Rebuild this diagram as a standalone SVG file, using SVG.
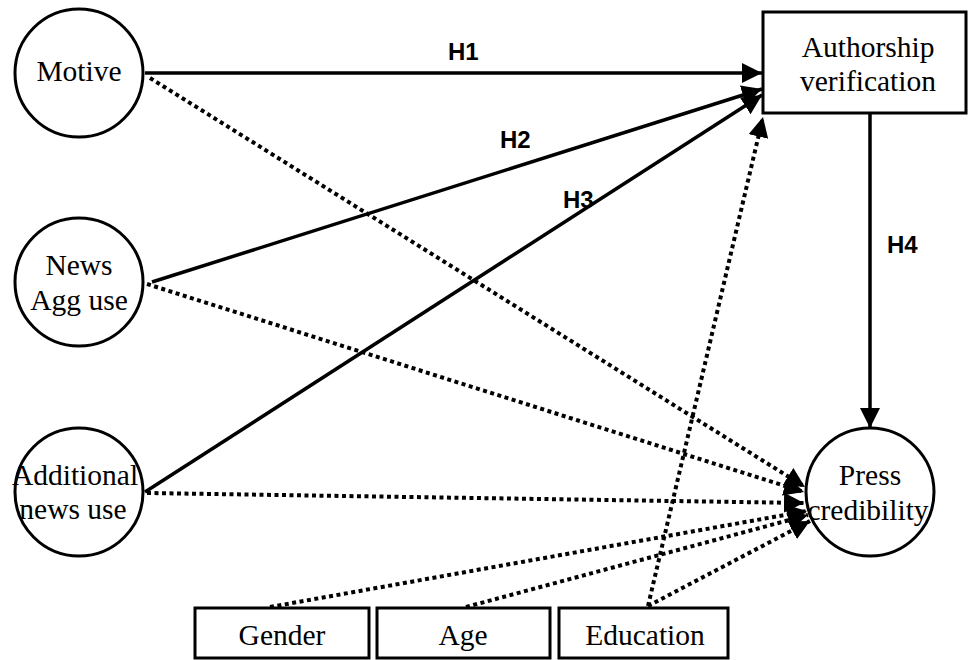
<svg xmlns="http://www.w3.org/2000/svg" width="968" height="660" viewBox="0 0 968 660">
<defs>
<marker id="ah" markerUnits="userSpaceOnUse" markerWidth="20" markerHeight="20" refX="20" refY="10" orient="auto">
<path d="M0,0 L20,10 L0,20 z" fill="#000"/>
</marker>
</defs>
<style>
.node{fill:#fff;stroke:#000;stroke-width:3}
.t{font-family:"Liberation Serif","Times New Roman",serif;font-size:29.5px;fill:#000;text-anchor:middle}
.lab{font-family:"Liberation Sans",Arial,sans-serif;font-size:24px;font-weight:bold;fill:#000}
.solid{stroke:#000;stroke-width:3.5;fill:none;marker-end:url(#ah)}
.dot{stroke:#000;stroke-width:4;fill:none;stroke-dasharray:4 3.5;marker-end:url(#ah)}
</style>
<rect width="968" height="660" fill="#fff"/>
<g id="connectors">
<line class="solid" x1="145" y1="73" x2="762" y2="73"/>
<line class="solid" x1="152" y1="282" x2="762" y2="89"/>
<line class="solid" x1="145" y1="492" x2="762" y2="95"/>
<line class="solid" x1="870" y1="113" x2="870" y2="428"/>
<line class="dot" x1="150" y1="78" x2="805" y2="487"/>
<line class="dot" x1="147" y1="284" x2="804" y2="492"/>
<line class="dot" x1="147" y1="493" x2="804" y2="503"/>
<line class="dot" x1="270" y1="607" x2="807" y2="511"/>
<line class="dot" x1="466" y1="607" x2="808" y2="515"/>
<line class="dot" x1="648" y1="606" x2="810" y2="521"/>
<line class="dot" x1="648" y1="606" x2="763" y2="117"/>
</g>
<g id="labels">
<text class="lab" x="448" y="60">H1</text>
<text class="lab" x="500" y="148">H2</text>
<text class="lab" x="563" y="208">H3</text>
<text class="lab" x="887" y="253">H4</text>
</g>
<g id="motive">
<circle class="node" cx="79" cy="73" r="64"/>
<text class="t" x="79" y="81">Motive</text>
</g>
<g id="news-agg-use">
<circle class="node" cx="79" cy="282" r="64"/>
<text class="t" x="79" y="275">News</text>
<text class="t" x="79" y="310">Agg use</text>
</g>
<g id="additional-news-use">
<circle class="node" cx="79" cy="492" r="64"/>
<text class="t" x="75" y="485">Additional</text>
<text class="t" x="73" y="519">news use</text>
</g>
<g id="authorship-verification">
<rect class="node" x="763" y="12" width="203" height="101"/>
<text class="t" x="868" y="57">Authorship</text>
<text class="t" x="868" y="91">verification</text>
</g>
<g id="press-credibility">
<circle class="node" cx="870" cy="492" r="64"/>
<text class="t" x="870" y="485">Press</text>
<text class="t" x="868" y="520">credibility</text>
</g>
<g id="gender">
<rect class="node" x="195" y="608" width="174" height="50"/>
<text class="t" x="282" y="645">Gender</text>
</g>
<g id="age">
<rect class="node" x="377" y="608" width="173" height="50"/>
<text class="t" x="463" y="645">Age</text>
</g>
<g id="education">
<rect class="node" x="559" y="608" width="169" height="50"/>
<text class="t" x="645" y="645">Education</text>
</g>
</svg>
